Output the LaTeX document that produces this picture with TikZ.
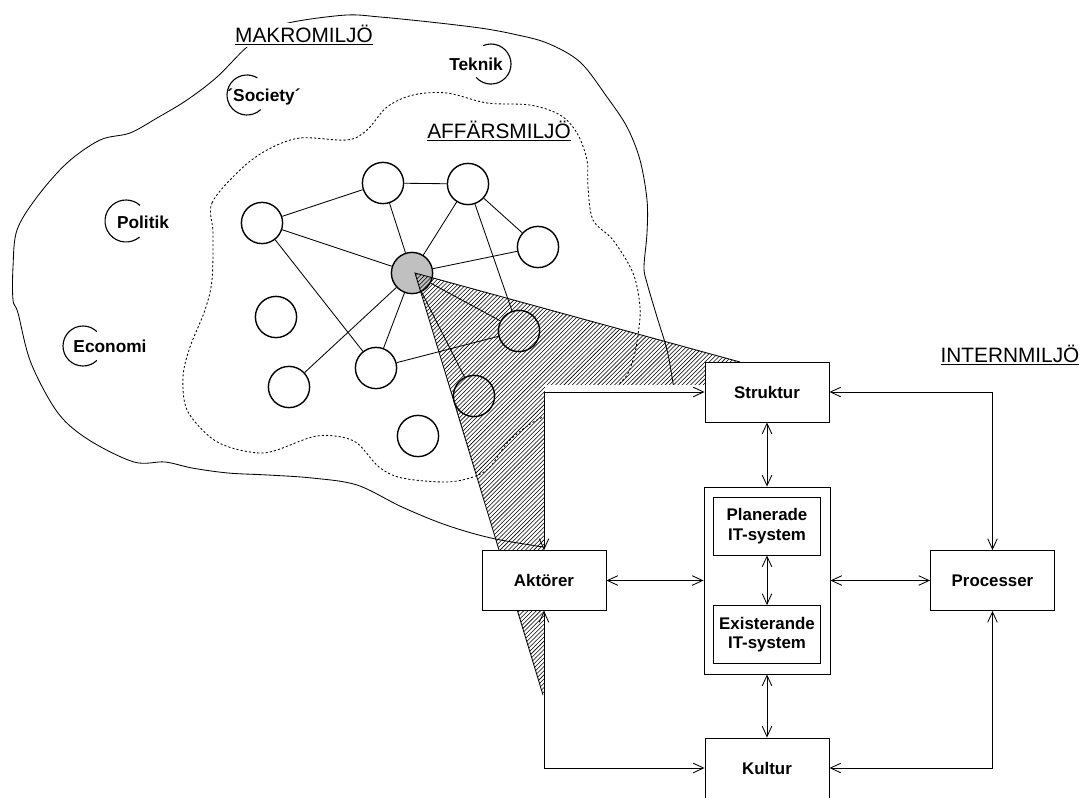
\documentclass[tikz,border=0pt]{standalone}
\usepackage{fontspec}
\setmainfont{Liberation Sans}
\usetikzlibrary{arrows.meta,patterns}
\definecolor{hubgrey}{RGB}{192,192,192}

\begin{document}
\begin{tikzpicture}[x=0.025cm,y=-0.025cm,
    box/.style={draw,fill=white,line width=0.6pt,minimum width=3.1cm,minimum height=1.5cm,inner sep=0pt,align=center,font=\fontsize{12}{14}\selectfont\bfseries},
    subbox/.style={box,minimum width=2.675cm,minimum height=1.45cm},
    itbox/.style={draw,fill=white,line width=0.6pt,minimum width=3.15cm,minimum height=4.675cm,inner sep=0pt},
    link/.style={{Straight Barb[length=2.6mm,width=2.4mm]}-{Straight Barb[length=2.6mm,width=2.4mm]},line width=0.6pt},
    party/.style={circle,draw,fill=white,line width=1pt,minimum size=1.03cm,inner sep=0pt},
    env/.style={font=\fontsize{14.8}{16}\selectfont},
    factor/.style={font=\fontsize{12.3}{14}\selectfont\bfseries},
    blob/.style={line width=0.6pt},
  ]
  \useasboundingbox (0,0) rectangle (1085,797);

  \draw[blob] plot[smooth cycle,tension=0.55] coordinates {
    (13,300) (13,267) (17,230) (37,197) (67,163) (100,140) (130,133) (157,118)
    (187,100) (217,77) (247,47) (275,28) (298,21) (347,15) (380,17) (430,22)
    (480,28) (513,34) (547,43) (580,62) (607,97) (627,127) (640,160) (647,200)
    (647,233) (644,267) (647,283) (657,317) (667,350) (673,383) (684,450)
    (645,540) (592,555) (543,547) (491,538) (446,525) (402,507) (357,485)
    (312,478) (268,475) (228,473) (192,468) (165,462) (134,462) (89,440)
    (58,413) (31,363) (18,313)};

  \draw[blob,dash pattern=on 1.5pt off 1.5pt] plot[smooth cycle,tension=0.55] coordinates {
    (213,233) (212,203) (240,170) (267,150) (300,138) (347,140) (367,130)
    (387,107) (413,95) (447,93) (487,103) (530,105) (560,115) (577,133)
    (587,160) (588,187) (593,220) (613,240) (633,273) (640,307) (638,335)
    (633,360) (623,380) (590,405) (543,417) (510,440) (490,467) (473,477)
    (446,482) (402,478) (379,467) (357,443) (335,436) (312,437) (277,450)
    (259,453) (232,448) (210,437) (187,410) (183,377) (190,347) (205,310)
    (212,280)};

  \node[factor] (teknik) at (476,64) {Teknik};
  \draw[line width=0.8pt] (491,64) ++(-113:20) arc[start angle=-113,end angle=138,radius=20];
  \node[factor] (society) at (264,97) {´Society´};
  \draw[line width=0.8pt] (247,95) ++(47:20) arc[start angle=47,end angle=301,radius=20];
  \node[factor] (politik) at (143,222) {Politik};
  \draw[line width=0.8pt] (126,221) ++(50:21) arc[start angle=50,end angle=312,radius=21];
  \node[factor] (economi) at (110,346) {Economi};
  \draw[line width=0.8pt] (83,346) ++(46:20) arc[start angle=46,end angle=314,radius=20];

  \node[party] (p1) at (262,223) {};
  \node[party] (p2) at (383,183) {};
  \node[party] (p3) at (468,184) {};
  \node[party] (p4) at (538,247) {};
  \node[party,fill=hubgrey] (hub) at (412,273) {};
  \node[party] (p6) at (276,317) {};
  \node[party] (p7) at (376,368) {};
  \node[party] (p8) at (289,387) {};
  \node[party] (p9) at (519,331) {};
  \node[party] (p10) at (474,396) {};
  \node[party] (p11) at (418,436) {};

  \draw[line width=0.6pt] (p1) -- (p2);
  \draw[line width=0.6pt] (p1) -- (hub);
  \draw[line width=0.6pt] (p1) -- (p7);
  \draw[line width=0.6pt] (p2) -- (p3);
  \draw[line width=0.6pt] (p2) -- (hub);
  \draw[line width=0.6pt] (p3) -- (hub);
  \draw[line width=0.6pt] (p3) -- (p4);
  \draw[line width=0.6pt] (p3) -- (p9);
  \draw[line width=0.6pt] (p4) -- (hub);
  \draw[line width=0.6pt] (hub) -- (p8);
  \draw[line width=0.6pt] (hub) -- (p7);
  \draw[line width=0.6pt] (p7) -- (p9);
  \draw[line width=0.6pt] (hub) -- (p9);
  \draw[line width=0.6pt] (hub) -- (p10);

  \coordinate (apex) at (415,273);
  \coordinate (wedgetop) at (740,362);
  \coordinate (wedgetip) at (543,695);
  \fill[pattern=north east lines] (apex) -- (wedgetop) -- (wedgetip) -- cycle;
  \draw[line width=0.6pt] (wedgetop) -- (apex) -- (wedgetip);

  \fill[white] (545,385) rectangle (1090,800);

  \node[env,fill=white,inner sep=1pt] (makro) at (304,35) {\underline{MAKROMILJÖ}};
  \node[env] (affars) at (499,131) {\underline{AFFÄRSMILJÖ}};
  \node[env] (intern) at (1010,355) {\underline{INTERNMILJÖ}};

  \node[box] (struktur) at (767,392) {Struktur};
  \node[box] (aktorer) at (544,580.5) {Aktörer};
  \node[box] (processer) at (992.5,580.5) {Processer};
  \node[box] (kultur) at (767,768) {Kultur};
  \node[itbox] (itsys) at (767,580.5) {};
  \node[subbox] (planerade) at (767,526) {Planerade\\IT-system};
  \node[subbox] (existerande) at (767,634.5) {Existerande\\IT-system};

  \draw[link] (struktur) -- (itsys);
  \draw[link] (planerade) -- (existerande);
  \draw[link] (itsys) -- (kultur);
  \draw[link] (aktorer) -- (itsys);
  \draw[link] (itsys) -- (processer);
  \draw[link] (struktur.east) -| (processer.north);
  \draw[link] (kultur.east) -| (processer.south);
  \draw[link] (aktorer.north) |- (struktur.west);
  \draw[link] (aktorer.south) |- (kultur.west);
\end{tikzpicture}
\end{document}
